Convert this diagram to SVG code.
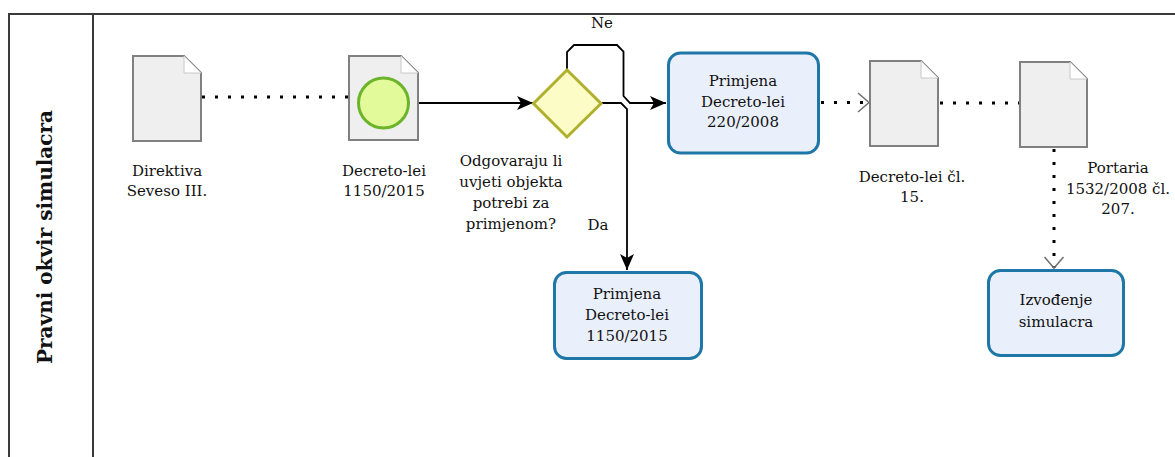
<svg xmlns="http://www.w3.org/2000/svg" width="1175" height="457" viewBox="0 0 1175 457">
<style>
  .pool{fill:none;stroke:#3a3a3a;stroke-width:2}
  .doc{fill:#efefef;stroke:#808080;stroke-width:2}
  .fold{fill:#ffffff;stroke:#c8c8c8;stroke-width:1}
  .task{fill:#eaeffc;stroke:#1f77a8;stroke-width:3}
  .gw{fill:#fcfcc6;stroke:#b0b02e;stroke-width:3}
  .ev{fill:#e2fa9a;stroke:#6cb42a;stroke-width:3}
  .seq{fill:none;stroke:#000;stroke-width:1.8}
  .assoc{fill:none;stroke:#000;stroke-width:3;stroke-dasharray:3 10}
  .lbl{font-family:"DejaVu Serif","Liberation Serif",serif;font-size:15px;fill:#111;text-anchor:middle}
  .lane{font-family:"DejaVu Serif","Liberation Serif",serif;font-size:20px;font-weight:bold;fill:#111;text-anchor:middle}
</style>
<defs>
  <marker id="arr" markerUnits="userSpaceOnUse" markerWidth="18" markerHeight="16" refX="16" refY="7" orient="auto">
    <path d="M0,0 L16,7 L0,14 L4,7 z" fill="#000"/>
  </marker>
  <marker id="open" markerUnits="userSpaceOnUse" markerWidth="14" markerHeight="22" refX="12" refY="10.5" orient="auto">
    <path d="M1,1 L12,10.5 L1,20" fill="none" stroke="#707070" stroke-width="1.5"/>
  </marker>
</defs>

<g id="pool">
  <rect class="pool" x="9" y="14" width="1200" height="470"/>
  <line class="pool" x1="93" y1="14" x2="93" y2="470"/>
  <text class="lane" transform="translate(52,237) rotate(-90)">Pravni okvir simulacra</text>
</g>

<g id="connectors">
  <line class="assoc" x1="202" y1="97" x2="349" y2="97"/>
  <line class="seq" x1="409" y1="103" x2="533" y2="103" marker-end="url(#arr)"/>
  <path class="seq" d="M567,70 L567,52 L574,45 L617,45 L623.5,51.5 L623.5,96 L630,103 L666,103" marker-end="url(#arr)"/>
  <path class="seq" d="M601,103 L621,103 L627,109 L627,270" marker-end="url(#arr)"/>
  <line class="assoc" x1="821" y1="102.5" x2="869" y2="102.5" marker-end="url(#open)"/>
  <line class="assoc" x1="940" y1="103" x2="1020" y2="103"/>
  <line class="assoc" x1="1054" y1="149" x2="1054" y2="268" marker-end="url(#open)"/>
  <text class="lbl" x="602" y="28">Ne</text>
  <text class="lbl" x="598" y="230">Da</text>
</g>

<g id="doc1">
  <path class="doc" d="M133,56 L184,56 L201,73 L201,141 L133,141 z"/>
  <path class="fold" d="M184,56 L184,73 L201,73 z"/>
  <text class="lbl" x="167" y="176">Direktiva</text>
  <text class="lbl" x="167" y="196">Seveso III.</text>
</g>

<g id="doc2">
  <path class="doc" d="M349,56 L401,56 L418,73 L418,140 L349,140 z"/>
  <path class="fold" d="M401,56 L401,73 L418,73 z"/>
  <circle class="ev" cx="383.5" cy="103" r="25"/>
  <text class="lbl" x="384" y="176">Decreto-lei</text>
  <text class="lbl" x="384" y="196">1150/2015</text>
</g>

<g id="gateway">
  <polygon class="gw" points="567,70 601,103.5 567,137 533.5,103.5"/>
  <text class="lbl" x="511" y="166">Odgovaraju li</text>
  <text class="lbl" x="511" y="187">uvjeti objekta</text>
  <text class="lbl" x="511" y="208">potrebi za</text>
  <text class="lbl" x="511" y="229">primjenom?</text>
</g>

<g id="task220">
  <rect class="task" x="668.5" y="53" width="150" height="100" rx="12"/>
  <text class="lbl" x="743" y="86">Primjena</text>
  <text class="lbl" x="743" y="107">Decreto-lei</text>
  <text class="lbl" x="743" y="127">220/2008</text>
</g>

<g id="doc3">
  <path class="doc" d="M870,61 L921,61 L938,78 L938,146 L870,146 z"/>
  <path class="fold" d="M921,61 L921,78 L938,78 z"/>
  <text class="lbl" x="912" y="182">Decreto-lei čl.</text>
  <text class="lbl" x="912" y="202">15.</text>
</g>

<g id="doc4">
  <path class="doc" d="M1020,62 L1070,62 L1087,79 L1087,147 L1020,147 z"/>
  <path class="fold" d="M1070,62 L1070,79 L1087,79 z"/>
  <text class="lbl" x="1118" y="173">Portaria</text>
  <text class="lbl" x="1118" y="194">1532/2008 čl.</text>
  <text class="lbl" x="1118" y="214">207.</text>
</g>

<g id="task1150">
  <rect class="task" x="554.5" y="272.5" width="147" height="86" rx="12"/>
  <text class="lbl" x="627" y="299">Primjena</text>
  <text class="lbl" x="627" y="320">Decreto-lei</text>
  <text class="lbl" x="627" y="341">1150/2015</text>
</g>

<g id="taskIzvodenje">
  <rect class="task" x="988.5" y="270.5" width="135" height="85" rx="12"/>
  <text class="lbl" x="1056" y="305">Izvođenje</text>
  <text class="lbl" x="1056" y="327">simulacra</text>
</g>
</svg>
